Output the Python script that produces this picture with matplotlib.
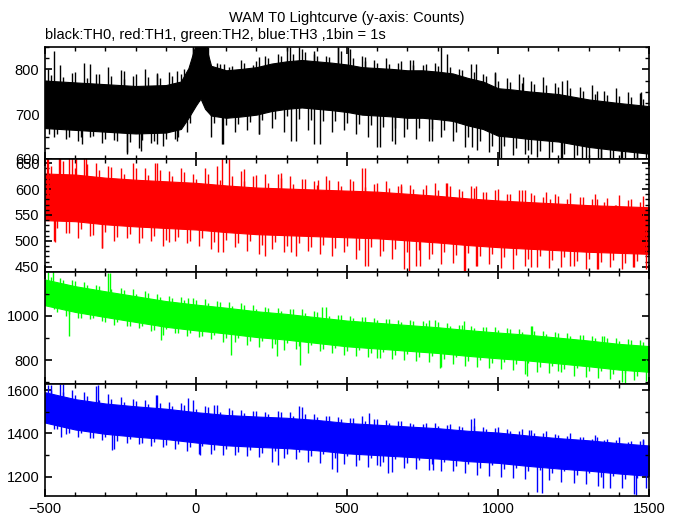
import numpy as np
import matplotlib
matplotlib.use("Agg")
import matplotlib.pyplot as plt
from matplotlib.ticker import MultipleLocator

plt.rcParams['font.family'] = ['Liberation Sans', 'DejaVu Sans']

# time grids of the spike read-outs (every 40 s)
up_t = list(range(-490, 1500, 40))    # tall upward spikes
dn_t = list(range(-470, 1500, 40))    # deep downward spikes
up2_t = list(range(-480, 1500, 40))   # medium upward spikes
dn2_t = list(range(-460, 1501, 40))   # medium downward spikes

# TH0 (black) - core band of the lightcurve
t_th0 = [-500, -400, -300, -200, -100, -50, -25, 0, 15, 30, 50, 100, 150, 200, 250,
         300, 350, 400, 450, 500, 550, 600, 650, 700, 750, 800, 850, 900, 950, 1000,
         1050, 1100, 1200, 1300, 1400, 1500]
lo_th0 = [669, 665, 661, 657, 659, 667, 692, 720, 735, 712, 697, 692, 695, 699, 707,
          712, 715, 712, 709, 705, 699, 697, 695, 692, 692, 689, 685, 675, 667, 652,
          649, 645, 639, 627, 619, 612]
hi_th0 = [775, 771, 767, 763, 765, 773, 803, 858, 868, 858, 808, 798, 801, 805, 813,
          818, 821, 818, 815, 811, 805, 803, 801, 798, 798, 795, 791, 781, 773, 758,
          755, 751, 745, 733, 725, 718]
up_th0 = [800, 810, 792, 815, 790, 805, 798, 785, 800, 792, 795, 790, 855, 855, 815,
          805, 820, 810, 830, 835, 850, 845, 840, 830, 850, 845, 830, 820, 825, 815,
          822, 810, 815, 835, 800, 812, 790, 795, 780, 790, 775, 782, 770, 776, 760,
          765, 752, 758, 750, 748]
dn_th0 = [650, 645, 640, 648, 635, 642, 615, 625, 635, 630, 645, 660, 730, 650, 633,
          660, 665, 655, 670, 660, 640, 665, 633, 660, 665, 655, 650, 626, 640, 650,
          645, 640, 650, 640, 626, 620, 615, 603, 610, 611, 605, 600, 598, 600, 598,
          598, 598, 598, 598, 598]
up2_th0 = [788, 782, 795, 780, 790, 785, 778, 790, 783, 780, 785, 800, 860, 850, 812,
           808, 815, 818, 825, 830, 835, 838, 830, 828, 840, 825, 818, 815, 812, 818,
           810, 812, 808, 805, 798, 795, 785, 775, 772, 770, 768, 765, 760, 758, 752,
           745, 742, 740, 738, 735]
dn2_th0 = [655, 650, 648, 652, 645, 640, 638, 642, 640, 645, 650, 680, 735, 680, 675,
           678, 682, 688, 690, 695, 690, 688, 685, 684, 680, 678, 675, 672, 670, 668,
           670, 668, 665, 660, 650, 640, 630, 628, 625, 620, 618, 615, 612, 608, 605,
           602, 600, 600, 598, 598]
spk_t_th0 = [-471, -350, -240, -129, -64, -10, 5, 20, 35, 92, 210, 300, 340, 392, 470,
             503, 561, 717, 811, 926, 991, 1082, 1212, 1329, 1473,
             -487, -376, -227, -181, -129, -64, 86, 210, 314, 392, 600, 659, 783, 913,
             1004, 1108, 1212, 1277, 1342, 1408, 1460]
spk_v_th0 = [842, 812, 797, 790, 797, 855, 855, 855, 855, 812, 827, 850, 850, 835, 850,
             850, 827, 820, 850, 812, 793, 782, 775, 752, 749,
             655, 633, 611, 618, 633, 640, 633, 655, 640, 633, 626, 633, 640, 626,
             603, 611, 600, 603, 600, 600, 600]

# TH1 (red)
t_th1 = [-500, -400, -300, -200, -100, 0, 100, 200, 300, 400, 500, 600, 700, 800,
         900, 1000, 1100, 1200, 1300, 1400, 1500]
lo_th1 = [540, 538, 532, 528, 525, 522, 517, 513, 511, 509, 507, 505, 501, 497, 492,
          488, 485, 482, 479, 477, 475]
hi_th1 = [630, 628, 622, 618, 615, 612, 607, 603, 601, 599, 597, 595, 591, 587, 582,
          578, 575, 572, 569, 567, 565]
up_th1 = [660, 660, 660, 660, 650, 645, 640, 650, 640, 650, 635, 640, 630, 640, 645,
          660, 635, 625, 630, 630, 625, 620, 615, 625, 615, 620, 640, 610, 615, 605,
          608, 600, 612, 612, 600, 606, 595, 598, 590, 598, 592, 585, 590, 580, 585,
          580, 575, 570, 578, 575]
dn_th1 = [500, 515, 505, 510, 487, 500, 505, 495, 500, 490, 500, 495, 490, 485, 478,
          488, 480, 475, 485, 478, 470, 480, 475, 470, 478, 465, 452, 470, 465, 445,
          452, 465, 455, 458, 442, 452, 455, 448, 445, 452, 449, 448, 450, 452, 445,
          446, 450, 445, 449, 445]
up2_th1 = [645, 655, 640, 648, 636, 642, 630, 640, 628, 636, 625, 632, 620, 630, 618,
           626, 615, 628, 612, 622, 610, 620, 608, 618, 606, 615, 604, 612, 602, 610,
           600, 608, 598, 605, 596, 602, 594, 600, 590, 598, 588, 595, 586, 592, 584,
           590, 582, 588, 580, 586]
dn2_th1 = [525, 515, 522, 512, 518, 508, 514, 505, 510, 502, 508, 500, 505, 498, 502,
           495, 500, 492, 497, 490, 495, 488, 493, 486, 490, 483, 488, 480, 485, 478,
           482, 475, 479, 472, 476, 470, 474, 468, 472, 466, 470, 464, 468, 462, 466,
           460, 464, 458, 462, 456]
spk_t_th1 = [-493, -454, -422, -396, -363, -135, 86, 158, 281, 405, 559, 678, 828, 926,
             1089, 1173, 1329, 1388,
             -467, -311, -90, 73, 229, 314, 561, 704, 743, 887, 926, 1108, 1238, 1329, 1447]
spk_v_th1 = [660, 660, 660, 660, 660, 650, 660, 638, 631, 618, 641, 606, 612, 606,
             599, 580, 580, 570,
             497, 487, 497, 478, 471, 478, 452, 442, 452, 442, 452, 449, 452, 446, 449]

# TH2 (green)
t_th2 = t_th1
lo_th2 = [1047, 1017, 994, 972, 950, 934, 920, 904, 892, 877, 862, 852, 842, 832, 819,
          808, 798, 785, 772, 757, 747]
hi_th2 = [1163, 1133, 1110, 1088, 1066, 1050, 1036, 1020, 1008, 993, 978, 968, 958, 948,
          935, 924, 914, 901, 888, 873, 863]
up_th2 = [1195, 1170, 1160, 1150, 1140, 1192, 1125, 1120, 1110, 1100, 1090, 1085, 1080,
          1075, 1065, 1060, 1055, 1050, 1040, 1035, 1030, 1030, 1020, 1038, 1005, 1000,
          995, 990, 985, 980, 980, 975, 982, 965, 960, 955, 950, 948, 945, 940, 952, 930,
          925, 920, 915, 910, 907, 900, 895, 890]
dn_th2 = [1030, 1000, 990, 985, 975, 960, 955, 945, 930, 915, 920, 910, 905, 895, 880,
          880, 870, 860, 855, 845, 850, 830, 840, 830, 825, 820, 815, 810, 805, 800, 795,
          790, 770, 780, 775, 770, 765, 760, 755, 735, 745, 740, 745, 730, 725, 720, 715,
          700, 710, 705]
up2_th2 = [1175, 1160, 1158, 1140, 1135, 1120, 1118, 1100, 1102, 1085, 1080, 1070, 1072,
           1058, 1060, 1045, 1048, 1032, 1035, 1022, 1028, 1010, 1015, 1000, 1004, 990,
           995, 980, 985, 972, 978, 965, 970, 955, 960, 945, 950, 936, 942, 928, 932, 918,
           924, 908, 912, 898, 900, 886, 890, 880]
dn2_th2 = [1015, 1008, 990, 990, 972, 970, 955, 952, 936, 938, 922, 924, 910, 912, 898,
           900, 885, 888, 874, 878, 862, 866, 850, 855, 840, 845, 830, 836, 824, 828, 815,
           820, 806, 812, 796, 802, 788, 792, 780, 785, 770, 775, 760, 765, 750, 752, 738,
           742, 728, 732]
spk_t_th2 = [-474, -285, -25, 418, 770, 887, 1111, 1343,
             -419, -116, 116, 268, 346, 600, 808, 1095, 1199, 1421]
spk_v_th2 = [1200, 1192, 1080, 1038, 982, 974, 952, 907,
             907, 892, 824, 817, 779, 809, 764, 726, 749, 696]

# TH3 (blue)
t_th3 = t_th1
lo_th3 = [1450, 1418, 1398, 1385, 1374, 1358, 1345, 1338, 1332, 1322, 1308, 1300, 1292,
          1284, 1272, 1264, 1250, 1238, 1228, 1215, 1204]
hi_th3 = [1590, 1558, 1538, 1525, 1514, 1498, 1485, 1478, 1472, 1462, 1448, 1440, 1432,
          1424, 1412, 1404, 1390, 1378, 1368, 1355, 1344]
up_th3 = [1625, 1628, 1600, 1590, 1620, 1580, 1570, 1560, 1555, 1575, 1545, 1540, 1555,
          1525, 1530, 1515, 1510, 1505, 1500, 1505, 1500, 1520, 1490, 1480, 1475, 1470,
          1480, 1465, 1460, 1455, 1450, 1445, 1450, 1440, 1435, 1465, 1430, 1425, 1420,
          1410, 1415, 1400, 1395, 1390, 1385, 1375, 1370, 1370, 1360, 1365]
dn_th3 = [1420, 1395, 1385, 1380, 1370, 1330, 1355, 1350, 1340, 1335, 1330, 1320, 1305,
          1305, 1300, 1300, 1295, 1290, 1270, 1285, 1280, 1270, 1265, 1235, 1260, 1250,
          1245, 1250, 1220, 1240, 1235, 1230, 1225, 1225, 1215, 1210, 1205, 1200, 1195,
          1190, 1130, 1185, 1175, 1170, 1165, 1155, 1150, 1150, 1120, 1150]
up2_th3 = [1600, 1590, 1575, 1572, 1555, 1560, 1545, 1548, 1535, 1540, 1525, 1530, 1512,
           1520, 1500, 1510, 1495, 1502, 1490, 1498, 1482, 1490, 1475, 1482, 1465, 1472,
           1455, 1465, 1450, 1458, 1442, 1450, 1436, 1445, 1428, 1436, 1420, 1428, 1410,
           1418, 1400, 1410, 1392, 1400, 1384, 1392, 1375, 1385, 1365, 1372]
dn2_th3 = [1420, 1400, 1400, 1380, 1385, 1365, 1372, 1355, 1362, 1345, 1352, 1335, 1340,
           1322, 1330, 1315, 1325, 1308, 1320, 1305, 1312, 1295, 1305, 1285, 1295, 1278,
           1288, 1270, 1282, 1265, 1275, 1258, 1268, 1250, 1260, 1242, 1252, 1235, 1242,
           1225, 1232, 1215, 1225, 1208, 1215, 1198, 1205, 1190, 1196, 1180]
spk_t_th3 = [-480, -439, -324, -133, -27, 60, 340, 572, 919, 1102, 1329, 1479,
             -448, -279, 12, 272, 466, 600, 635, 785, 1145, 1349, 1457]
spk_v_th3 = [1623, 1630, 1623, 1577, 1562, 1531, 1526, 1492, 1469, 1416, 1385, 1370,
             1385, 1323, 1300, 1254, 1224, 1254, 1216, 1231, 1124, 1147, 1116]

panels = [
    (t_th0, lo_th0, hi_th0, [up_th0, dn_th0, up2_th0, dn2_th0], spk_t_th0, spk_v_th0,
     '#000000', (600, 850), [600, 700, 800], 25),
    (t_th1, lo_th1, hi_th1, [up_th1, dn_th1, up2_th1, dn2_th1], spk_t_th1, spk_v_th1,
     '#ff0000', (440, 658), [450, 500, 550, 600, 650], 10),
    (t_th2, lo_th2, hi_th2, [up_th2, dn_th2, up2_th2, dn2_th2], spk_t_th2, spk_v_th2,
     '#00ff00', (692, 1197), [800, 1000], 100),
    (t_th3, lo_th3, hi_th3, [up_th3, dn_th3, up2_th3, dn2_th3], spk_t_th3, spk_v_th3,
     '#0000ff', (1111, 1628), [1200, 1400, 1600], 100),
]
grids = [up_t, dn_t, up2_t, dn2_t]

fig = plt.figure(figsize=(6.79, 5.15), dpi=100)
tops = [47, 159, 272, 384, 496]
W, H = 679.0, 515.0

for i, (t, lo, hi, spikes, st, sv, col, ylim, yt, ymin) in enumerate(panels):
    y0 = 1 - tops[i + 1] / H
    h = (tops[i + 1] - tops[i]) / H
    ax = fig.add_axes([45 / W, y0, 604 / W, h])
    t = np.array(t, float)
    mid = (np.array(lo, float) + np.array(hi, float)) / 2
    ax.fill_between(t, lo, hi, color=col, lw=0.8)
    for gt, gv in zip(grids, spikes):
        ax.vlines(gt, np.interp(gt, t, mid), gv, color=col, lw=1)
    ax.vlines(st, np.interp(st, t, mid), sv, color=col, lw=1)
    ax.set_xlim(-500, 1500)
    ax.set_ylim(*ylim)
    ax.set_yticks(yt)
    ax.yaxis.set_minor_locator(MultipleLocator(ymin))
    ax.xaxis.set_major_locator(MultipleLocator(500))
    ax.xaxis.set_minor_locator(MultipleLocator(100))
    ax.tick_params(which='both', direction='in', top=True, right=True,
                   labelsize=10.5, colors='black', pad=4)
    ax.tick_params(which='major', length=5, width=1.2)
    ax.tick_params(which='minor', length=3, width=1)
    for s in ax.spines.values():
        s.set_linewidth(1.2)
    if i < 3:
        ax.tick_params(labelbottom=False)

fig.text(0.511, 1 - 18 / H, 'WAM T0 Lightcurve (y-axis: Counts)', ha='center',
         va='center', fontsize=10.5)
fig.text(45 / W, 1 - 35 / H, 'black:TH0, red:TH1, green:TH2, blue:TH3 ,1bin = 1s',
         ha='left', va='center', fontsize=10.5)

fig.savefig('out.png', dpi=100)
